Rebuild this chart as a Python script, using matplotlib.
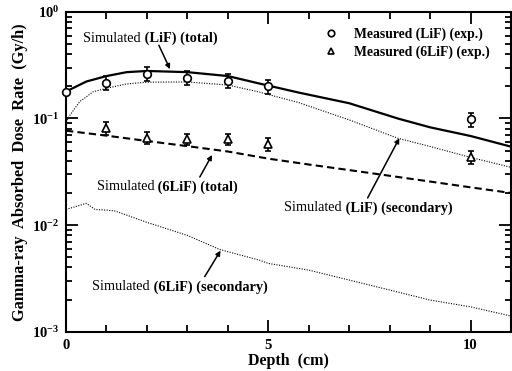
import matplotlib
matplotlib.use("Agg")
import matplotlib.pyplot as plt
from matplotlib.ticker import FixedLocator, FixedFormatter, LogLocator, NullFormatter

# ── data ────────────────────────────────────────────────────────────
lif_total_x = [0, 0.5, 1, 1.5, 2, 3, 4, 4.75, 5.75, 7, 8.2, 9, 10, 11]
lif_total_y = [0.179, 0.222, 0.25, 0.272, 0.279, 0.272, 0.25, 0.214,
               0.175, 0.139, 0.100, 0.0826, 0.0685, 0.0544]

lif_sec_x = [0, 0.1, 0.34, 0.67, 1, 1.5, 2, 3, 4, 4.75, 5.75, 7, 8.2, 9, 10, 11]
lif_sec_y = [0.092, 0.108, 0.144, 0.178, 0.192, 0.211, 0.219, 0.220, 0.206,
             0.178, 0.141, 0.097, 0.0653, 0.0546, 0.0432, 0.0348]

li6_total_x = [0, 1, 2, 3, 4, 5, 6, 7, 8, 9, 10, 11]
li6_total_y = [0.0768, 0.069, 0.0615, 0.055, 0.049, 0.042, 0.037, 0.0328,
               0.029, 0.0256, 0.0226, 0.020]

li6_sec_x = [0, 0.5, 0.72, 1.0, 1.2, 2, 3, 3.8, 4.77, 5, 6, 7, 8, 9, 10, 10.9, 11]
li6_sec_y = [0.0140, 0.0160, 0.0140, 0.0138, 0.0136, 0.0106, 0.0080, 0.0059,
             0.0047, 0.00437, 0.00378, 0.00305, 0.00246, 0.00198, 0.00171,
             0.00143, 0.0014]

meas_lif_x = [0, 1, 2, 3, 4, 5, 10]
meas_lif_y = [0.179, 0.217, 0.262, 0.241, 0.226, 0.200, 0.098]
meas_lif_err = [0, 0.033, 0.039, 0.036, 0.034, 0.030, 0.015]

meas_li6_x = [1, 2, 3, 4, 5, 10]
meas_li6_y = [0.081, 0.066, 0.064, 0.064, 0.058, 0.0438]
meas_li6_err = [0.011, 0.009, 0.008, 0.008, 0.008, 0.006]

ytick_vals = [1e-3, 1e-2, 1e-1, 1e0]
ytick_labels = ["$10^{-3}$", "$10^{-2}$", "$10^{-1}$", "$10^{0}$"]

plt.rcParams["font.family"] = ["Liberation Serif", "DejaVu Serif"]
plt.rcParams["mathtext.fontset"] = "custom"
plt.rcParams["mathtext.rm"] = "Liberation Serif:bold"
plt.rcParams["mathtext.it"] = "Liberation Serif:bold"
plt.rcParams["mathtext.bf"] = "Liberation Serif:bold"

fig = plt.figure(figsize=(5.12, 3.71), dpi=100)
ax = fig.add_axes([0.129, 0.106, 0.869, 0.862])

# ── simulated curves ────────────────────────────────────────────────
ax.plot(lif_total_x, lif_total_y, "-", color="black", lw=1.6)
ax.plot(lif_sec_x, lif_sec_y, color="black", lw=0.8, ls=(0, (1, 1.3)))
ax.plot(li6_total_x, li6_total_y, color="black", lw=1.5, ls=(0, (3.5, 2)))
ax.plot(li6_sec_x, li6_sec_y, color="black", lw=0.8, ls=(0, (1, 1.3)))

# ── measured points ─────────────────────────────────────────────────
ax.errorbar(meas_lif_x, meas_lif_y, yerr=meas_lif_err, fmt="o", ms=5.5,
            mfc="white", mec="black", mew=1.2, ecolor="black", elinewidth=1.2,
            capsize=2.5, capthick=1.2, clip_on=False, zorder=5,
            label="Measured (LiF) (exp.)")
ax.errorbar(meas_li6_x, meas_li6_y, yerr=meas_li6_err, fmt="^", ms=5.5,
            mfc="white", mec="black", mew=1.2, ecolor="black", elinewidth=1.2,
            capsize=2.5, capthick=1.2, clip_on=False, zorder=5,
            label="Measured (6LiF) (exp.)")

# ── axes ────────────────────────────────────────────────────────────
ax.set_yscale("log")
ax.set_xlim(0, 11)
ax.set_ylim(1e-3, 1e0)
ax.yaxis.set_major_locator(FixedLocator(ytick_vals))
ax.yaxis.set_major_formatter(FixedFormatter(ytick_labels))
ax.yaxis.set_minor_locator(LogLocator(base=10, subs=range(2, 10)))
ax.yaxis.set_minor_formatter(NullFormatter())
ax.set_xticks([0, 5, 10])
ax.set_xticklabels(["0", "5", "10"], fontweight="bold")
ax.set_xticks(range(0, 12), minor=True)

ax.tick_params(which="both", direction="in", top=True, right=True,
               width=1.3, labelsize=10.5)
ax.tick_params(which="major", length=8.5, pad=5)
ax.tick_params(which="minor", length=4.5)
ax.tick_params(axis="x", which="minor", length=5)
for sp in ax.spines.values():
    sp.set_linewidth(1.5)

ax.set_xlabel("Depth  (cm)", fontsize=11.5, fontweight="bold", labelpad=1)
ax.set_ylabel("Gamma-ray  Absorbed  Dose  Rate  (Gy/h)", fontsize=11.8,
              fontweight="bold", labelpad=3)

# ── legend ──────────────────────────────────────────────────────────
handles, labels = ax.get_legend_handles_labels()
handles = [h[0] for h in handles]
ax.legend(handles, labels, loc="upper left", bbox_to_anchor=(0.555, 0.99),
          frameon=False, handlelength=0.9, handletextpad=1.2,
          labelspacing=0.35, markerscale=0.85,
          prop={"weight": "bold", "size": 9.8})

# ── annotations ─────────────────────────────────────────────────────
arrow = dict(arrowstyle="-|>", color="black", lw=1.1, mutation_scale=7,
             shrinkA=1, shrinkB=0)
fs = 10.3


def simulated(txt, xy, text_left, text_y, start):
    t = ax.text(text_left, text_y, "Simulated", ha="left", va="center",
                fontsize=fs)
    ax.annotate(" " + txt, xy=(1, 0.5), xycoords=t, ha="left", va="center",
                fontsize=fs, fontweight="bold")
    ax.annotate("", xy=xy, xytext=start, arrowprops=arrow)


simulated("(LiF) (total)", (2.57, 0.290), 0.42, 0.56, (2.28, 0.50))
simulated("(6LiF) (total)", (3.61, 0.0455), 0.76, 0.0228, (3.29, 0.0275))
simulated("(LiF) (secondary)", (8.24, 0.0653), 5.4, 0.0145, (7.44, 0.0175))
simulated("(6LiF) (secondary)", (3.82, 0.00576), 0.64, 0.00263, (3.41, 0.0032))

fig.savefig("out.png", dpi=100)
